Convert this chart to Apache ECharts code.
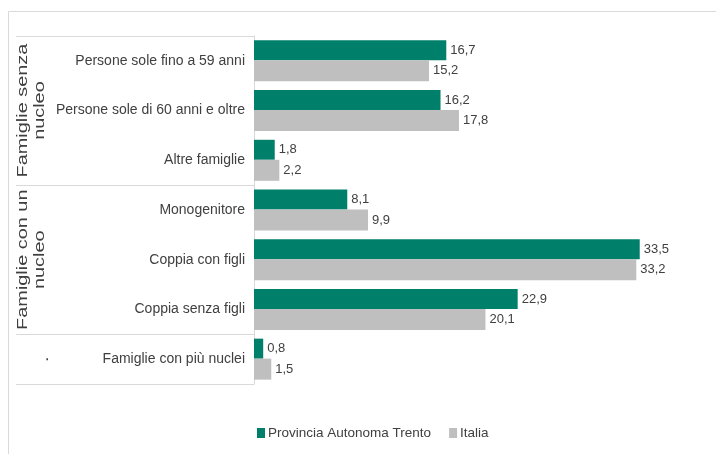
<!DOCTYPE html>
<html>
<head>
<meta charset="utf-8">
<script src="https://cdn.jsdelivr.net/npm/echarts@6/dist/echarts.min.js"></script>
<style>
html,body{margin:0;padding:0;background:#fff;}
#chart{width:716px;height:454px;}
</style>
</head>
<body>
<div id="chart"></div>
<script>
const categories = ['Persone sole fino a 59 anni','Persone sole di 60 anni e oltre','Altre famiglie','Monogenitore','Coppia con figli','Coppia senza figli','Famiglie con più nuclei'];
const trentoValues = [16.7, 16.2, 1.8, 8.1, 33.5, 22.9, 0.8];
const italiaValues = [15.2, 17.8, 2.2, 9.9, 33.2, 20.1, 1.5];
const seriesNames = ['Provincia Autonoma Trento', 'Italia'];
const groupNames = ['Famiglie senza\nnucleo', 'Famiglie con un\nnucleo', '.'];
const groupStarts = [0, 3, 6];
const groupEnds = [2, 5, 6];

const FONT = '"Liberation Sans", Arial, sans-serif';
const GREEN = '#00806a';
const GRAY = '#bfbfbf';
const TEXT = '#404040';
const LINE = '#d9d9d9';

const fmt = p => String(p.value.toFixed(1)).replace('.', ',');

const chart = echarts.init(document.getElementById('chart'), null, {renderer: 'canvas'});
const option = {
  animation: false,
  backgroundColor: '#fff',
  grid: {left: 254, top: 36, right: 59, bottom: 70, containLabel: false},
  xAxis: {type: 'value', min: 0, max: 35, show: false},
  yAxis: {
    type: 'category', data: categories, inverse: true,
    axisLine: {show: true, lineStyle: {color: LINE, width: 1}},
    axisTick: {show: false},
    splitLine: {show: false},
    axisLabel: {color: TEXT, fontFamily: FONT, fontSize: 14, margin: 9}
  },
  legend: {
    data: seriesNames, left: 252, top: 421, icon: 'rect', itemWidth: 8, itemHeight: 10, itemGap: 18,
    textStyle: {color: TEXT, fontFamily: FONT, fontSize: 13.5, padding: [0, 0, 0, -2]}
  },
  series: [
    {name: seriesNames[0], type: 'bar', data: trentoValues, barWidth: 20, barGap: '0%',
     itemStyle: {color: GREEN},
     label: {show: true, position: 'right', distance: 4, color: TEXT, fontFamily: FONT, fontSize: 13, formatter: fmt}},
    {name: seriesNames[1], type: 'bar', data: italiaValues, barWidth: 21, barGap: '0%',
     itemStyle: {color: GRAY},
     label: {show: true, position: 'right', distance: 4, color: TEXT, fontFamily: FONT, fontSize: 13, formatter: fmt}}
  ]
};
chart.setOption(option);

const c0 = chart.convertToPixel({yAxisIndex: 0}, categories[0]);
const c1 = chart.convertToPixel({yAxisIndex: 0}, categories[1]);
const band = c1 - c0;
const axisX = chart.convertToPixel({xAxisIndex: 0}, 0);
const edge = i => c0 + band * i - band / 2;

const graphics = [];
graphics.push({type: 'rect', silent: true, shape: {x: 8.5, y: 11.5, width: 760, height: 500},
  style: {fill: null, stroke: LINE, lineWidth: 1}, z: -1});
const lineYs = [edge(0)];
groupEnds.forEach(e => lineYs.push(edge(e + 1)));
lineYs.forEach(y => {
  const yy = Math.round(y) + 0.5;
  graphics.push({type: 'line', silent: true, shape: {x1: 16, y1: yy, x2: axisX, y2: yy},
    style: {stroke: LINE, lineWidth: 1}});
});
groupNames.forEach((g, k) => {
  const yc = (edge(groupStarts[k]) + edge(groupEnds[k] + 1)) / 2;
  graphics.push({type: 'text', silent: true, x: g === '.' ? 44 : 32, y: yc,
    rotation: Math.PI / 2, scaleX: 1.42,
    style: {text: g, fill: TEXT, font: '14px "Liberation Sans", Arial, sans-serif', align: 'center', verticalAlign: 'middle', lineHeight: 17}});
});
chart.setOption({graphic: graphics});
</script>
</body>
</html>
